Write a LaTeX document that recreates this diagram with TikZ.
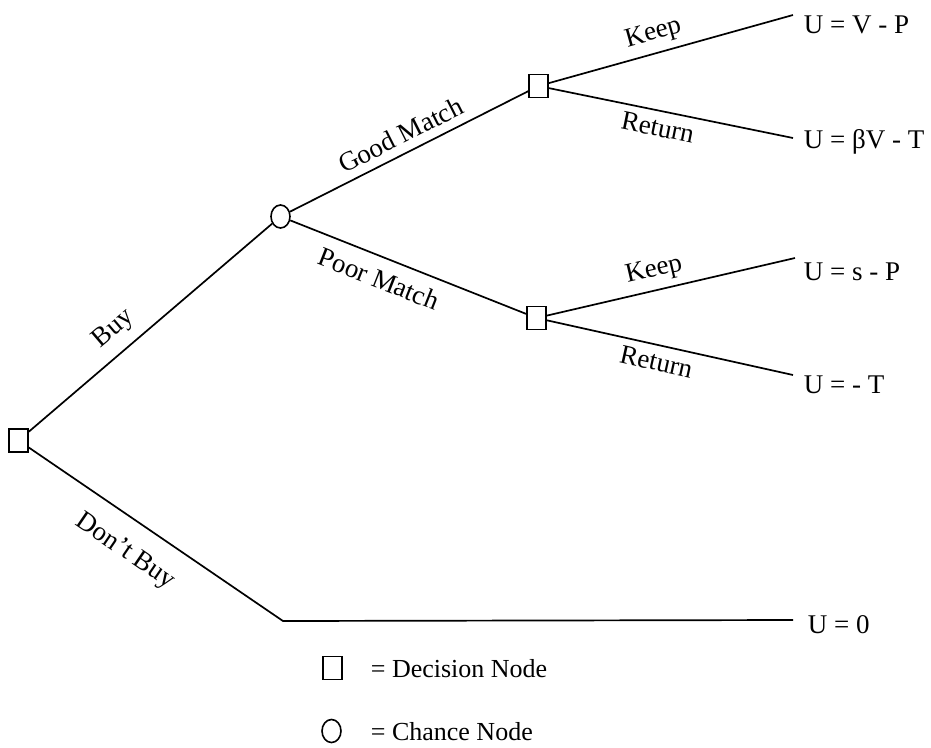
\documentclass[tikz,border=0pt]{standalone}
\usepackage{fontspec}
\setmainfont{Liberation Serif}
\usetikzlibrary{shapes.geometric}
\begin{document}
\begin{tikzpicture}[x=1pt,y=-1pt, line width=1.7pt,
 dec/.style={draw, rectangle, minimum width=19pt, minimum height=23pt, inner sep=0pt, line width=1.6pt},
 chance/.style={draw, ellipse, minimum width=19pt, minimum height=23pt, inner sep=0pt, line width=1.6pt},
 util/.style={anchor=base west, font=\fontsize{27}{31}\selectfont, inner sep=0pt},
 lab/.style={font=\fontsize{27}{31}\selectfont, inner sep=0pt},
 leg/.style={anchor=base west, font=\fontsize{26}{30}\selectfont, inner sep=0pt}]
\useasboundingbox (0,0) rectangle (931,747);
% nodes
\node[dec] (root) at (18.5,440.5) {};
\node[chance] (ch) at (280.5,216.5) {};
\node[dec] (dg) at (538.5,86) {};
\node[dec] (dp) at (536.5,318) {};
% end coordinates
\coordinate (e1) at (793,15);
\coordinate (e2) at (793,138);
\coordinate (e3) at (795,258);
\coordinate (e4) at (793,375);
\coordinate (corner) at (283,621);
\coordinate (e5) at (793,620);
% utility texts
\node[util] (u1) at (803,33) {U = V - P};
\node[util] (u2) at (803,148) {U = βV - T};
\node[util] (u3) at (803,280) {U = s - P};
\node[util] (u4) at (803,393) {U = - T};
\node[util] (u5) at (807,633) {U = 0};
% edges
\draw (root) -- node[lab, pos=0.41, sloped, above=10pt] {Buy} (ch);
\draw (root) -- node[lab, pos=0.45, sloped, below=19pt] {Don't Buy} (corner) -- (e5);
\draw (ch) -- node[lab, pos=0.50, sloped, above=8pt] {Good Match} (dg);
\draw (ch) -- node[lab, pos=0.41, sloped, below=11pt] {Poor Match} (dp);
\draw (dg) -- node[lab, pos=0.45, sloped, above=7pt] {Keep} (e1);
\draw (dg) -- node[lab, pos=0.46, sloped, below=7pt] {Return} (e2);
\draw (dp) -- node[lab, pos=0.45, sloped, above=7pt] {Keep} (e3);
\draw (dp) -- node[lab, pos=0.46, sloped, below=7pt] {Return} (e4);
% legend
\node[dec] (ldec) at (332.5,668) {};
\node[leg] (tdec) at (370,677) {= Decision Node};
\node[chance] (lch) at (331.5,731) {};
\node[leg] (tch) at (370,740) {= Chance Node};
\end{tikzpicture}
\end{document}
